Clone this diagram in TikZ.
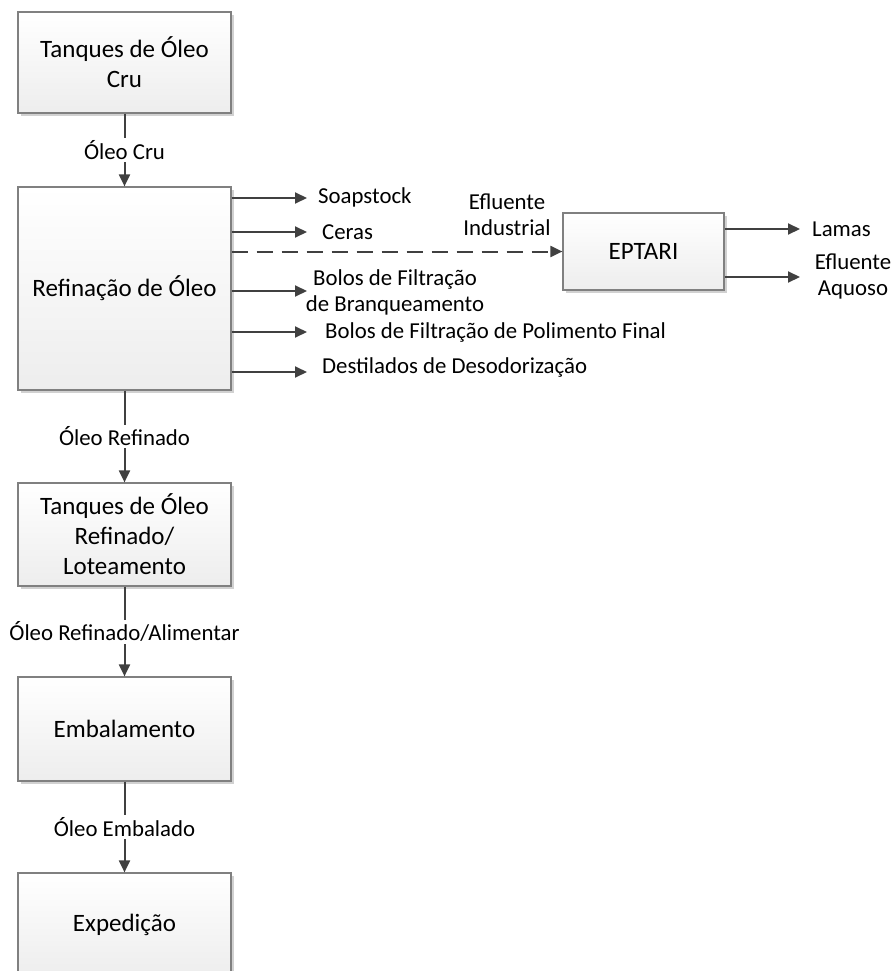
\documentclass[tikz,border=0pt]{standalone}
\usepackage{fontspec}
\setmainfont{Carlito}
\usetikzlibrary{arrows.meta,shadows}
\begin{document}
\begin{tikzpicture}[x=1pt,y=-1pt,
  procbox/.style={draw=black!50, line width=1.2pt, top color=white, bottom color=black!7,
    drop shadow={shadow xshift=3pt, shadow yshift=-3pt, fill=black!18, opacity=1},
    minimum width=213pt, align=center, inner sep=0pt,
    font=\fontsize{25}{30}\selectfont},
  flow/.style={draw=black!75, line width=2pt, -{Triangle[length=12pt,width=11pt]}},
  dflow/.style={flow, dash pattern=on 16pt off 9pt},
  lbl/.style={fill=white, inner xsep=1pt, inner ysep=2pt, font=\fontsize{22.8}{26}\selectfont},
  outlbl/.style={inner sep=0pt, align=center, font=\fontsize{22.8}{26}\selectfont}
]
\useasboundingbox (0,0) rectangle (896,971);
\clip (0,0) rectangle (896,971);

% main column boxes
\node[procbox, minimum height=101pt] (b1) at (124.5,62.5) {Tanques de Óleo\\Cru};
\node[procbox, minimum height=203pt] (b2) at (124.5,288.5) {Refinação de Óleo};
\node[procbox, minimum height=103pt] (b3) at (124.5,534.5) {Tanques de Óleo\\Refinado/\\Loteamento};
\node[procbox, minimum height=104pt] (b4) at (124.5,729) {Embalamento};
\node[procbox, minimum height=104pt] (b5) at (124.5,925) {Expedição};
\node[procbox, minimum width=161pt, minimum height=77pt] (ept) at (643.5,251.5) {EPTARI};

% vertical flows
\draw[flow] (b1) -- node[lbl] {Óleo Cru} (b2);
\draw[flow] (b2) -- node[lbl] {Óleo Refinado} (b3);
\draw[flow] (b3) -- node[lbl] {Óleo Refinado/Alimentar} (b4);
\draw[flow] (b4) -- node[lbl] {Óleo Embalado} (b5);

% side outputs of refining
\coordinate (eSoap) at (307,198);
\coordinate (eCeras) at (307,232);
\coordinate (eBr) at (307,291);
\coordinate (ePol) at (307,332);
\coordinate (eDes) at (307,372);
\draw[flow] (b2.east |- eSoap) -- (eSoap);
\draw[flow] (b2.east |- eCeras) -- (eCeras);
\draw[flow] (b2.east |- eBr) -- (eBr);
\draw[flow] (b2.east |- ePol) -- (ePol);
\draw[flow] (b2.east |- eDes) -- (eDes);
\draw[dflow] (b2.east |- ept.west) -- (ept.west);

\node[outlbl, anchor=west] (tSoap) at (318,197) {Soapstock};
\node[outlbl, anchor=west] (tCeras) at (322,232) {Ceras};
\node[outlbl] (tEfl) at (507,215) {Efluente\\Industrial};
\node[outlbl] (tBr) at (395,292) {Bolos de Filtração\\de Branqueamento};
\node[outlbl, anchor=west] (tPol) at (325,332) {Bolos de Filtração de Polimento Final};
\node[outlbl, anchor=west] (tDes) at (322,367) {Destilados de Desodorização};

% EPTARI outputs
\coordinate (eLam) at (800,229);
\coordinate (eAq) at (800,277);
\draw[flow] (ept.east |- eLam) -- (eLam);
\draw[flow] (ept.east |- eAq) -- (eAq);
\node[outlbl, anchor=west] (tLam) at (812,229) {Lamas};
\node[outlbl] (tAq) at (853,276) {Efluente\\Aquoso};
\end{tikzpicture}
\end{document}
